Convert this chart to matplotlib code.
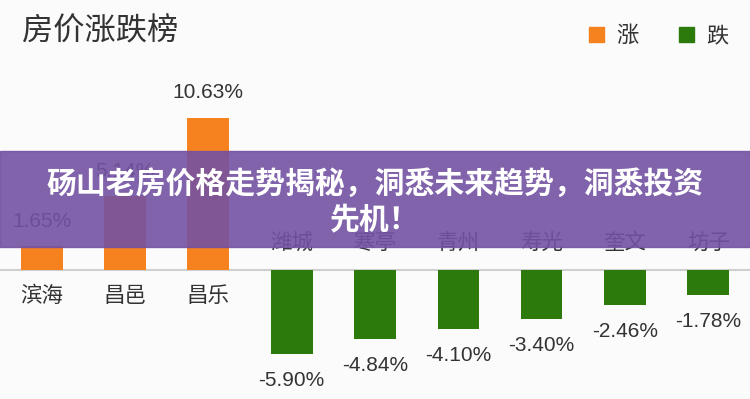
import numpy as np
import matplotlib.pyplot as plt
from matplotlib.patches import Patch, Rectangle

plt.rcParams['font.family'] = ['Liberation Sans', 'Noto Sans CJK SC', 'DejaVu Sans']

# data
cities = ['滨海', '昌邑', '昌乐', '潍城', '寒亭', '青州', '寿光', '奎文', '坊子']
change = [1.65, 5.14, 10.63, -5.90, -4.84, -4.10, -3.40, -2.46, -1.78]
legend_labels = ['涨', '跌']
title = '房价涨跌榜'
banner = '砀山老房价格走势揭秘，洞悉未来趋势，洞悉投资\n先机！'

up_color = '#f5821f'
down_color = '#2c7a0c'
bg = '#fbfbfc'

fig = plt.figure(figsize=(7.5, 3.99), dpi=100, facecolor=bg)
ax = fig.add_axes([0, 0, 1, 1])
ax.set_facecolor(bg)
ax.set_xlim(-0.5, len(cities) - 0.5)
ax.set_ylim(-9.02, 18.88)
ax.axis('off')

x = np.arange(len(cities))
colors = [up_color if v > 0 else down_color for v in change]
ax.bar(x, change, width=0.5, color=colors, zorder=2)
ax.axhline(0, color='#cfcfcf', lw=1.5, zorder=1)

for xi, v, name in zip(x, change, cities):
    up = v > 0
    ax.annotate('%.2f%%' % v, (xi, v), xytext=(0, 18 if up else -19),
                textcoords='offset points', ha='center', va='center',
                fontsize=15, color='#333333', zorder=3)
    ax.annotate(name, (xi, 0), xytext=(0, -19 if up else 19),
                textcoords='offset points', ha='center', va='center',
                fontsize=15.5, color='#333333', zorder=3)

fig.text(0.029, 1 - 32 / 399, title, ha='left', va='center',
         fontsize=22.5, color='#333333')

handles = [Patch(color=up_color), Patch(color=down_color)]
ax.legend(handles, legend_labels, loc='upper right', bbox_to_anchor=(0.998, 0.985),
          ncol=2, frameon=False, fontsize=16, handlelength=0.68, handleheight=0.68,
          handletextpad=0.55, columnspacing=1.8, labelcolor='#333333')

# purple banner across the middle
fig.patches.append(Rectangle((0, 1 - 247 / 399), 1, 96 / 399, transform=fig.transFigure,
                             color='#7352a2', alpha=0.9, zorder=5))
fig.text(0.5, 1 - 202 / 399, banner, ha='center', va='center', fontsize=21.5,
         color='white', weight='bold', linespacing=1.25, zorder=6,
         family=['Noto Sans CJK SC', 'DejaVu Sans'])

plt.savefig('out.png', dpi=100, facecolor=bg)
